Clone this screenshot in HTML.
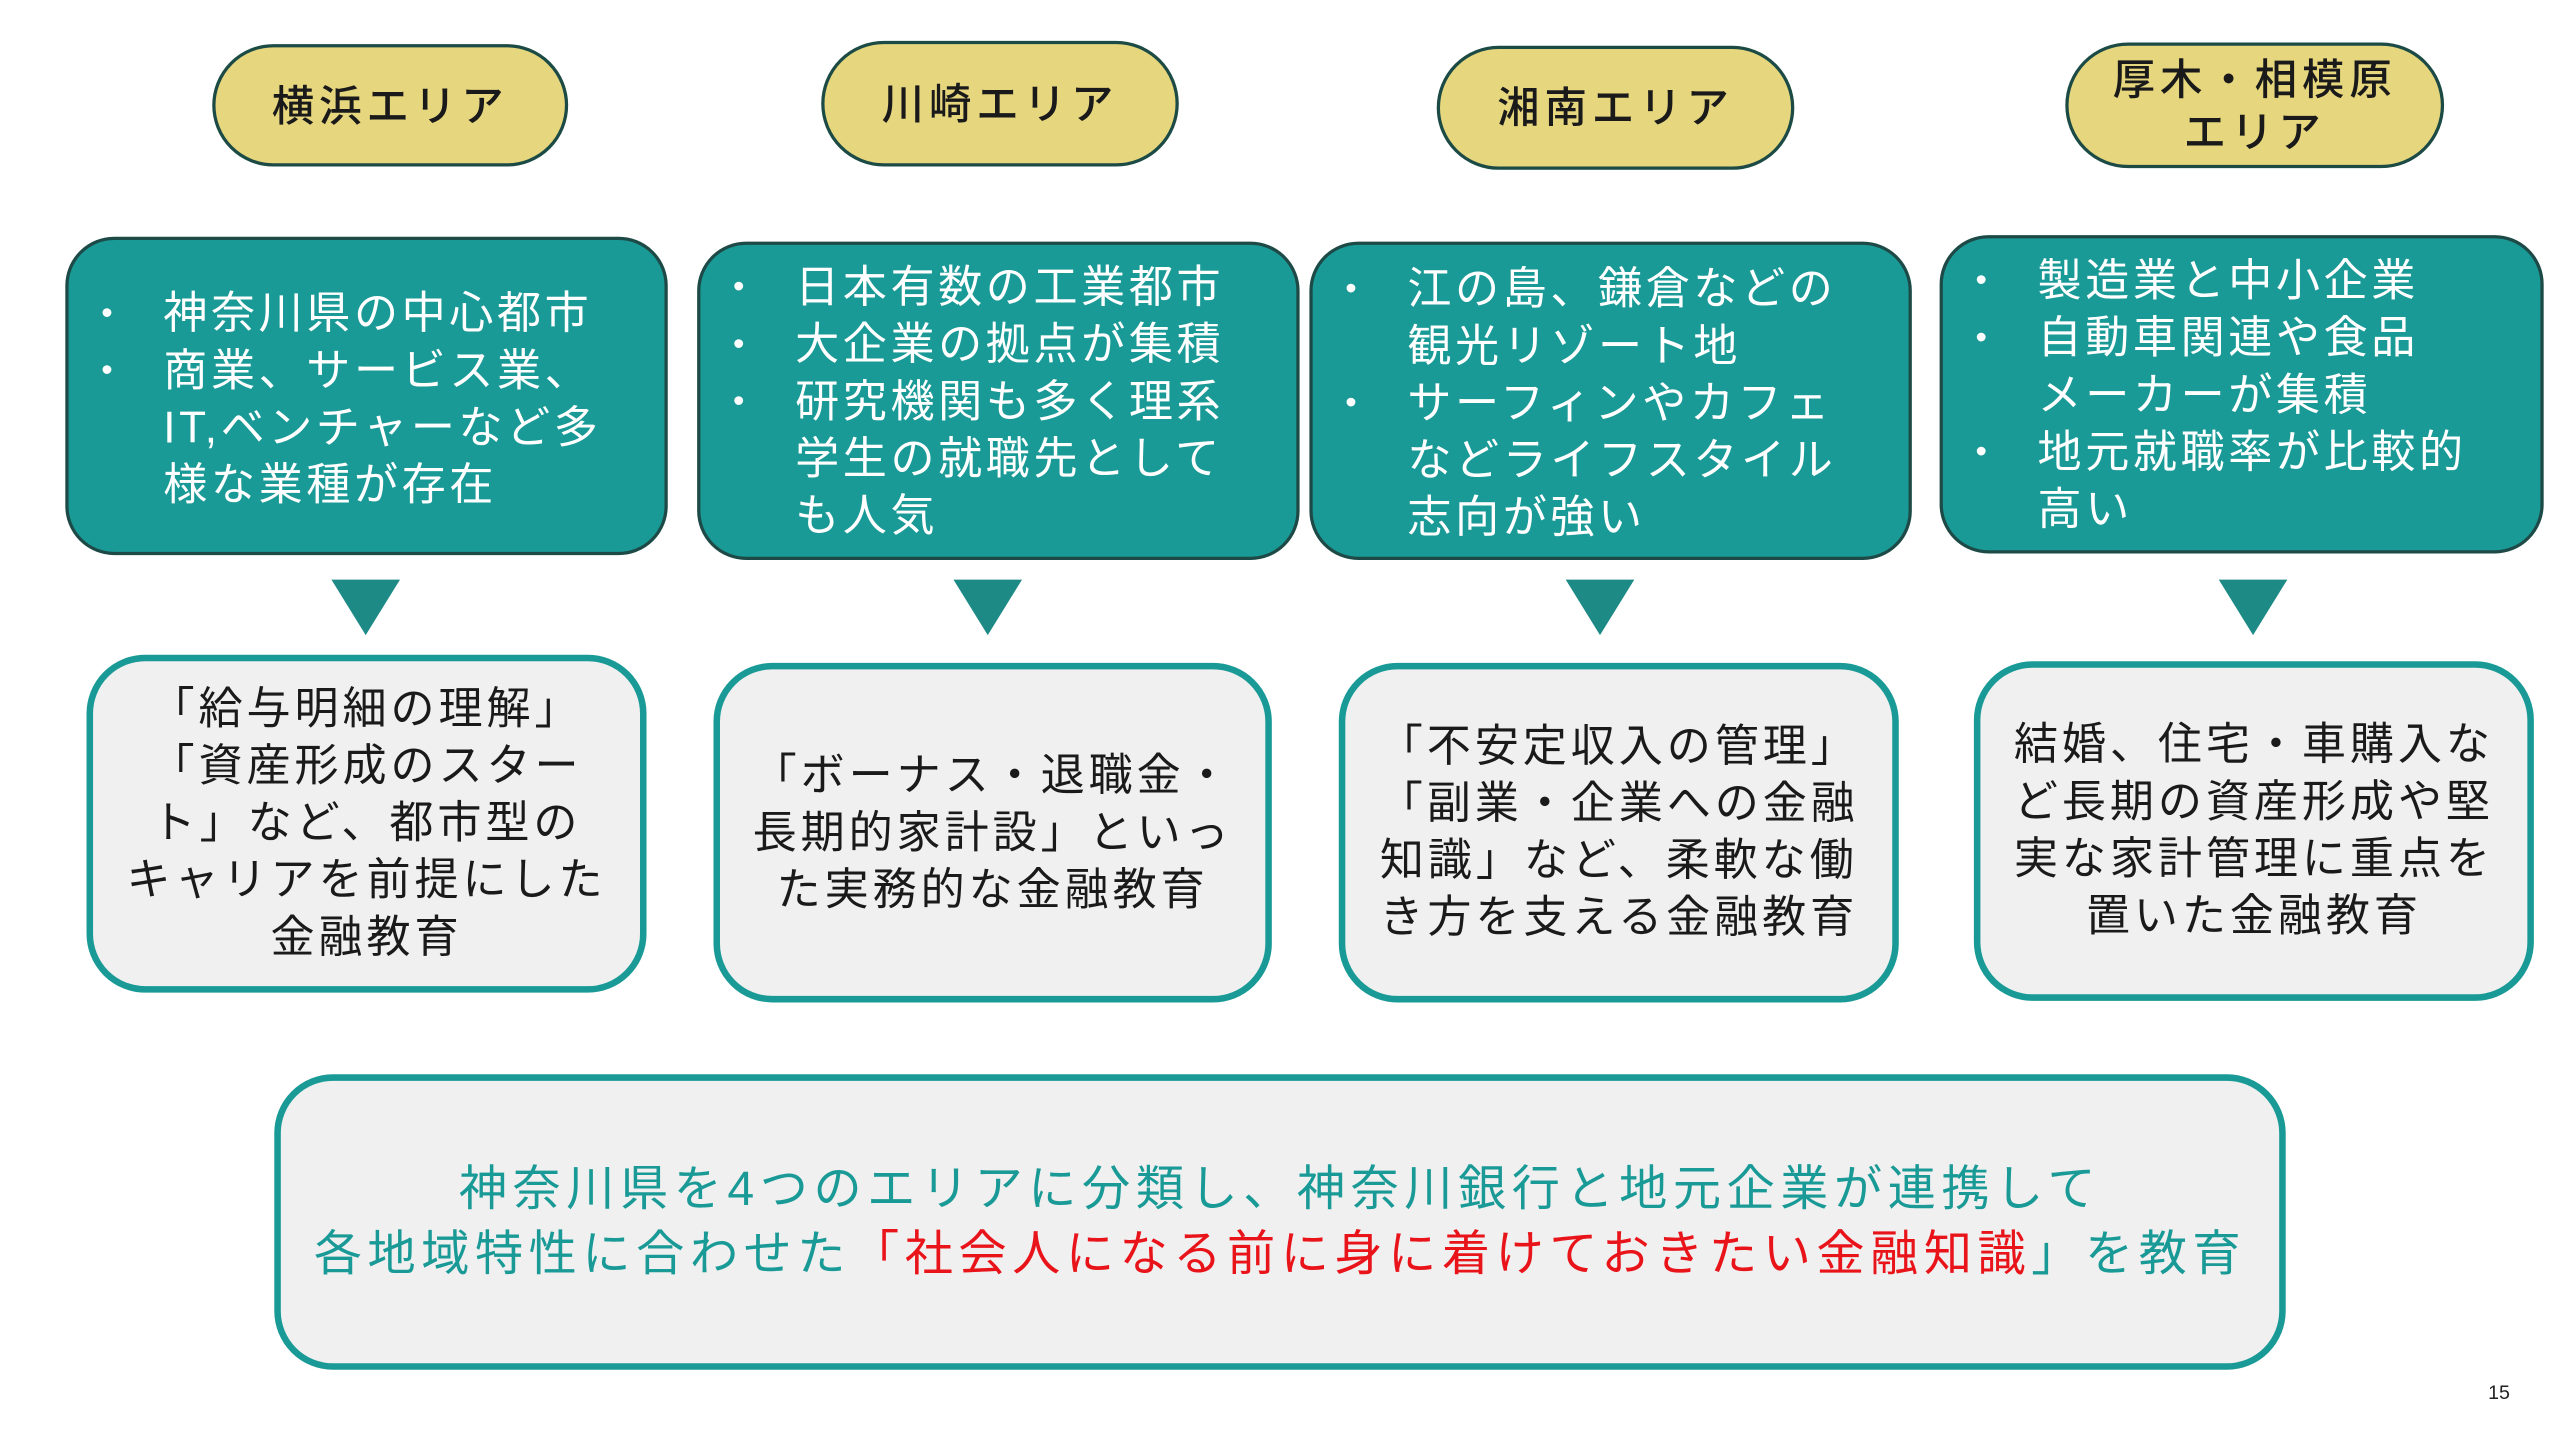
<!DOCTYPE html>
<html><head><meta charset="utf-8">
<style>
html,body{margin:0;padding:0;background:#fff;}
body{width:2560px;height:1440px;overflow:hidden;position:relative;}
#s{position:absolute;left:0;top:0;width:1568px;height:882px;transform:scale(1.632653);transform-origin:0 0;font-family:"Liberation Sans","Noto Sans CJK JP",sans-serif;}
.p{position:absolute;background:#e6d67e;border:2px solid #1c4a45;border-radius:40px;box-sizing:border-box;display:flex;align-items:center;justify-content:center;text-align:center;font-size:26px;font-weight:500;color:#1a1a1a;line-height:32px;letter-spacing:3px;white-space:nowrap;}
.t{position:absolute;background:#1a9a96;border:2px solid #1d4a47;border-radius:30px;box-sizing:border-box;color:#fff;font-size:27px;line-height:35px;letter-spacing:2.2px;white-space:nowrap;}
.t ul{margin:0;padding:0;list-style:none;}
.t li{position:relative;padding-left:58px;}
.t li:before{content:"•";position:absolute;left:20px;top:0;font-size:20px;}
.tri{position:absolute;width:0;height:0;border-left:21px solid transparent;border-right:21px solid transparent;border-top:34px solid #1d8a86;}
.l{position:absolute;background:#f0f0f0;border:4px solid #1a9a96;border-radius:36px;box-sizing:border-box;display:flex;align-items:center;justify-content:center;text-align:center;font-size:27px;line-height:35px;color:#1a1a1a;letter-spacing:2.4px;white-space:nowrap;}
</style></head><body><div id="s">
<div class="p" style="left:130px;top:27px;width:218px;height:75px">横浜エリア</div>
<div class="p" style="left:503px;top:25px;width:219px;height:77px">川崎エリア</div>
<div class="p" style="left:880px;top:28px;width:219px;height:76px">湘南エリア</div>
<div class="p" style="left:1265px;top:26px;width:232px;height:77px">厚木・相模原<br>エリア</div>

<div class="t" style="left:40px;top:145px;width:369px;height:195px;padding-top:28px"><ul><li>神奈川県の中心都市</li><li>商業、サービス業、<br>IT,ベンチャーなど多<br>様な業種が存在</li></ul></div>
<div class="t" style="left:427px;top:148px;width:369px;height:195px;padding-top:9px"><ul><li>日本有数の工業都市</li><li>大企業の拠点が集積</li><li>研究機関も多く理系<br>学生の就職先として<br>も人気</li></ul></div>
<div class="t" style="left:802px;top:148px;width:369px;height:195px;padding-top:10px"><ul><li>江の島、鎌倉などの<br>観光リゾート地</li><li>サーフィンやカフェ<br>などライフスタイル<br>志向が強い</li></ul></div>
<div class="t" style="left:1188px;top:144px;width:370px;height:195px;padding-top:9px"><ul><li>製造業と中小企業</li><li>自動車関連や食品<br>メーカーが集積</li><li>地元就職率が比較的<br>高い</li></ul></div>

<div class="tri" style="left:203px;top:355px"></div>
<div class="tri" style="left:584px;top:355px"></div>
<div class="tri" style="left:959px;top:355px"></div>
<div class="tri" style="left:1359px;top:355px"></div>

<div class="l" style="left:53px;top:401px;width:343px;height:207px"><div>「給与明細の理解」<br>「資産形成のスター<br>ト」など、都市型の<br>キャリアを前提にした<br>金融教育</div></div>
<div class="l" style="left:437px;top:406px;width:342px;height:208px"><div>「ボーナス・退職金・<br>長期的家計設」といっ<br>た実務的な金融教育</div></div>
<div class="l" style="left:820px;top:406px;width:343px;height:208px"><div>「不安定収入の管理」<br>「副業・企業への金融<br>知識」など、柔軟な働<br>き方を支える金融教育</div></div>
<div class="l" style="left:1209px;top:405px;width:343px;height:208px"><div>結婚、住宅・車購入な<br>ど長期の資産形成や堅<br>実な家計管理に重点を<br>置いた金融教育</div></div>

<div class="l" style="left:168px;top:658px;width:1232px;height:181px;color:#1a9a96;font-size:29.5px;line-height:40px;letter-spacing:3.4px"><div>神奈川県を4つのエリアに分類し、神奈川銀行と地元企業が連携して<br>各地域特性に合わせた<span style="color:#e8141a">「社会人になる前に身に着けておきたい金融知識</span>」を教育</div></div>

<div style="position:absolute;left:1524px;top:846px;font-size:12px;color:#222">15</div>
</div></body></html>
